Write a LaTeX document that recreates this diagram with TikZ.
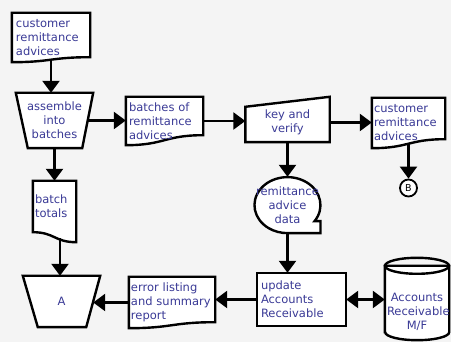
\documentclass[tikz,border=0pt]{standalone}
\usepackage{fontspec}
\setmainfont{DejaVu Sans}
\usetikzlibrary{calc,arrows.meta}
\definecolor{ink1}{RGB}{58,58,150}
\definecolor{back1}{HTML}{F4F4F4}
\pgfdeclarelayer{back}
\pgfdeclarelayer{shapes}
\pgfsetlayers{back,shapes,main}

\tikzset{
  shapeline/.style={line width=2.4pt,line join=miter,fill=white},
  flow/.style={line width=2.4pt,-{Triangle[length=12pt,width=17pt]}},
  flowboth/.style={line width=2.4pt,{Triangle[length=12pt,width=17pt]}-{Triangle[length=12pt,width=17pt]}},
  lbl/.style={text=ink1,font=\fontsize{11.5}{14}\selectfont,inner sep=2pt},
  lblleft/.style={lbl,align=left},
  lblmid/.style={lbl,align=center},
}

% document symbol: node name, rise of left and right bottom corner
\newcommand{\docoutline}[3]{%
  \draw[shapeline] ($(#1.south west)+(0,#2)$) -- (#1.north west) -- (#1.north east)
    -- ($(#1.south east)+(0,#3)$)
    .. controls ($(#1.south)+(0,#3)$) and ($(#1.south)+(0,#2)$) .. ($(#1.south west)+(0,#2)$) -- cycle;}

\begin{document}
\begin{tikzpicture}[x=1pt,y=1pt]
\useasboundingbox (0,0) rectangle (451,342);
\begin{pgfonlayer}{back}
\fill[back1] (0,0) rectangle (451,342);
\end{pgfonlayer}

% top row
\node (d1) at (51,304.5) [lblleft,minimum width=78,minimum height=49,text width=70] {customer\\remittance\\advices};
\node (t1) at (54.5,221.5) [lblmid,minimum width=77,minimum height=55] {assemble\\into\\batches};
\node (d2) at (164.5,221) [lblleft,minimum width=77,minimum height=48,text width=71] {batches of\\remittance\\advices};
\node (kv) at (287.5,219.5) [lblmid,minimum width=84,minimum height=39] {key and\\verify};
\node (d3) at (408.5,219) [lblleft,minimum width=73,minimum height=50,text width=69] {customer\\remittance\\advices};
\node (B) at (408.5,154) [circle,draw,line width=1.8pt,fill=white,minimum size=17,inner sep=0pt,font=\fontsize{9.5}{9.5}\selectfont] {B};

% middle
\node (rd) at (287.5,137) [lblmid,minimum width=66,minimum height=56] {remittance\\advice\\data};
\node (bt) at (54.5,135.5) [lblleft,minimum width=43,minimum height=51,text width=39] {batch\\totals};

% bottom row
\node (A) at (61.5,40.5) [lblmid,minimum width=77,minimum height=51] {A};
\node (er) at (172,39.5) [lblleft,minimum width=86,minimum height=51,text width=82] {error listing\\and summary\\report};
\node (upd) at (301.5,42.5) [lblleft,minimum width=89,minimum height=53,text width=81] {update\\Accounts\\Receivable};
\node (arf) at (417,30) [lblmid,minimum width=64,minimum height=56,text width=60] {Accounts\\Receivable\\M/F};

\begin{pgfonlayer}{shapes}
\docoutline{d1}{0}{5}
\docoutline{d2}{0}{10}
\docoutline{d3}{0}{9}
\docoutline{er}{0}{6}
\docoutline{bt}{0}{-10}
\draw[shapeline] (t1.north west) -- (t1.north east) -- ($(t1.south east)+(-11,0)$) -- ($(t1.south west)+(12,0)$) -- cycle;
\draw[shapeline] (A.north west) -- (A.north east) -- ($(A.south east)+(-14,0)$) -- ($(A.south west)+(15,0)$) -- cycle;
\draw[shapeline] (kv.south west) -- ($(kv.north west)+(0,-4)$) -- ($(kv.north east)+(0,6)$) -- (kv.south east) -- cycle;
\draw[shapeline] (upd.south west) rectangle (upd.north east);
\draw[shapeline] (rd.south) -- ++(33,0) -- ++(0,12) -- ++(-6,0)
  arc[start angle=-35,end angle=270,x radius=33pt,y radius=28pt] -- cycle;
\draw[shapeline] ($(arf.south west)+(0,8)$) -- ($(arf.north west)+(0,18)$) -- ($(arf.north east)+(0,18)$)
  -- ($(arf.south east)+(0,8)$) arc[start angle=0,end angle=-180,x radius=32pt,y radius=8pt] -- cycle;
\draw[line width=2.4pt] ($(arf.north)+(0,18)$) ellipse[x radius=32pt,y radius=8pt];
\end{pgfonlayer}

\coordinate (d1x) at ($(d1.south)+(0,2.5)$);
\coordinate (btx) at ($(bt.south)+(5.5,-6)$);
\coordinate (Ar) at ($(A.east)+(-7,0)$);

\draw[flow] (d1x) -- (d1x |- t1.north);
\draw[flow] ($(t1.east)+(-5.5,0)$) -- (t1.east -| d2.west);
\draw[flow] (d2.east) -- (d2.east -| kv.west);
\draw[flow] (kv.east) -- (kv.east -| d3.west);
\draw[flow] ($(d3.south)+(0,4.5)$) -- (B.north);
\draw[flow] (kv.south) -- (rd.north);
\draw[flow] (rd.south) -- (rd.south |- upd.north);
\draw[flow] (t1.south) -- (bt.north);
\draw[flow] (btx) -- (btx |- A.north);
\draw[flow] (er.west) -- (er.west -| Ar);
\draw[flow] (upd.west) -- (upd.west -| er.east);
\draw[flowboth] (upd.east) -- (upd.east -| arf.west);

\end{tikzpicture}
\end{document}
